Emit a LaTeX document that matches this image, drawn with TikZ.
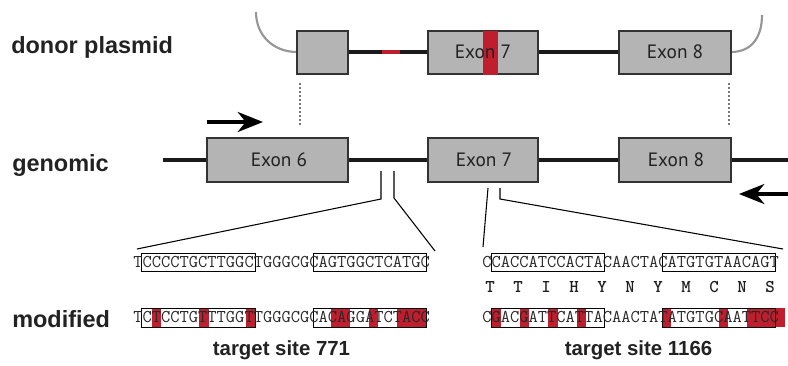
\documentclass[tikz,border=0pt]{standalone}
\usepackage{fontspec}
\usepackage{tikz}
\usetikzlibrary{arrows.meta}
\newfontfamily\labfont{Liberation Sans}
\newfontfamily\exonfont{PT Sans}
\definecolor{exongray}{RGB}{180,180,180}
\definecolor{edgegray}{RGB}{51,51,51}
\definecolor{mutred}{RGB}{190,30,45}
\definecolor{arcgray}{RGB}{150,150,150}

\begin{document}
\begin{tikzpicture}[x=0.75pt,y=0.75pt,yscale=-1,xscale=1,
  exonbox/.style={fill=exongray,draw=edgegray,line width=1.1pt},
  exontext/.style={inner sep=0.75pt,font=\exonfont\fontsize{14.5}{16}\selectfont,text={rgb,255:red,34;green,34;blue,34}},
  geneline/.style={line width=3.5pt,color={rgb,255:red,26;green,26;blue,26}},
  rowlabel/.style={anchor=base west,inner sep=0pt,font=\labfont\bfseries\fontsize{17.6}{20}\selectfont,text={rgb,255:red,34;green,34;blue,34}},
  sitelabel/.style={anchor=base,inner sep=0pt,font=\labfont\bfseries\fontsize{15.3}{18}\selectfont,text={rgb,255:red,34;green,34;blue,34}},
  seq/.style={anchor=base west,inner sep=0pt,font=\ttfamily\fontsize{13.5}{15}\selectfont,text={rgb,255:red,40;green,40;blue,40}},
  aa/.style={inner sep=0pt,font=\ttfamily\bfseries\fontsize{13.5}{15}\selectfont,text={rgb,255:red,30;green,30;blue,30}},
  seqbox/.style={draw=black,line width=0.7pt},
  zoomline/.style={draw=black,line width=0.8pt},
  guide/.style={draw={rgb,255:red,120;green,120;blue,120},line width=0.8pt,dash pattern=on 1.5pt off 1.5pt},
  primer/.style={line width=2.6pt,-{Stealth[length=19pt,width=15pt,inset=6pt]}}
]
%uncomment if require: \path (0,365); %set diagram left start at 0, and has height of 365
\useasboundingbox (0,0) rectangle (788,365);

% Text Node
\draw (11,53) node (lbldonor) [rowlabel] {donor plasmid};
% Text Node
\draw (12,171) node (lblgenomic) [rowlabel] {genomic};
% Text Node
\draw (12,327) node (lblmod) [rowlabel] {modified};

%Curve Lines
\draw [color=arcgray,line width=1.6pt] (256,12) .. controls (256,36) and (274,52) .. (297,52) ;
\draw [color=arcgray,line width=1.6pt] (731,52) .. controls (751,52) and (762,38) .. (762,15) ;
%Straight Lines
\draw [geneline] (348,52) -- (619,52) ;
\draw [geneline,color=mutred] (382,52) -- (400,52) ;
%Shape: Rectangle
\draw [exonbox] (297,31) rectangle (348,74) ;
\draw [exonbox] (428,31) rectangle (538,74) ;
\fill [mutred] (483,30.5) rectangle (498,74.5) ;
\draw [exonbox] (619,31) rectangle (731,74) ;
% Text Node
\draw (483,52) node (dex7) [exontext] {Exon 7};
% Text Node
\draw (675,52) node (dex8) [exontext] {Exon 8};

%Straight Lines
\draw [guide] (300,83) -- (300,127) ;
\draw [guide] (729,83) -- (729,127) ;

%Straight Lines
\draw [primer] (207,122) -- (263,122) ;
\draw [primer] (792,194) -- (739,194) ;

%Straight Lines
\draw [geneline] (163,160) -- (788,160) ;
%Shape: Rectangle
\draw [exonbox] (207,138) rectangle (348,182) ;
\draw [exonbox] (428,138) rectangle (538,182) ;
\draw [exonbox] (619,138) rectangle (731,182) ;
% Text Node
\draw (279,160) node (gex6) [exontext] {Exon 6};
% Text Node
\draw (484,160) node (gex7) [exontext] {Exon 7};
% Text Node
\draw (676,160) node (gex8) [exontext] {Exon 8};

% zoom coordinates
\coordinate (za) at (381,171);
\coordinate (zb) at (394,171);
\coordinate (zc) at (488,188);
\coordinate (zd) at (500,188);
\coordinate (ea) at (137,249);
\coordinate (eb) at (435,251);
\coordinate (ec) at (483,247);
\coordinate (ed) at (783,249);
%Straight Lines
\draw [zoomline] (za) -- (za |- 0,199) -- (ea) ;
\draw [zoomline] (zb) -- (zb |- 0,198) -- (eb) ;
\draw [zoomline] (zc) -- (ec) ;
\draw [zoomline] (zd) -- (zd |- 0,199) -- (ed) ;

%Shape: Rectangle (mutations)
\foreach \i in {2,7,12,21,22,25,28,29,30}
  \fill [mutred] ({133+\i*9.44},308) rectangle ++(9.44,19) ;
\foreach \i in {1,4,7,10,19,25,28,29,30,31}
  \fill [mutred] ({482+\i*9.47},308) rectangle ++(9.47,19) ;

%Shape: Rectangle (target boxes)
\draw [seqbox] (141,253) rectangle (255,271) ;
\draw [seqbox] (313,253) rectangle (426,271) ;
\draw [seqbox] (491,253) rectangle (604,271) ;
\draw [seqbox] (662,253) rectangle (775,271) ;
\draw [seqbox] (141,308) rectangle (255,327) ;
\draw [seqbox] (313,308) rectangle (426,327) ;
\draw [seqbox] (491,308) rectangle (604,327) ;
\draw [seqbox] (662,308) rectangle (775,327) ;

% Text Node
\draw (133,267) node (seqwt1) [seq] {TCCCCTGCTTGGCTGGGCGCAGTGGCTCATGC};
% Text Node
\draw (482,267) node (seqwt2) [seq] {CCACCATCCACTACAACTACATGTGTAACAGT};
% Text Node
\draw (133,322.5) node (seqmod1) [seq] {TCTCCTGTTTGGTTGGGCGCACAGGATCTACC};
% Text Node
\draw (482,322.5) node (seqmod2) [seq] {CGACGATTCATTACAACTATATGTGCAATTCC};

% Text Node
\foreach \a [count=\k from 0] in {T,T,I,H,Y,N,Y,M,C,N,S}
  \draw ({490+28*\k},287) node (aa\k) [aa] {\a};

% Text Node
\draw (281.5,355) node (site771) [sitelabel] {target site 771};
% Text Node
\draw (638.5,355) node (site1166) [sitelabel] {target site 1166};

\end{tikzpicture}
\end{document}
